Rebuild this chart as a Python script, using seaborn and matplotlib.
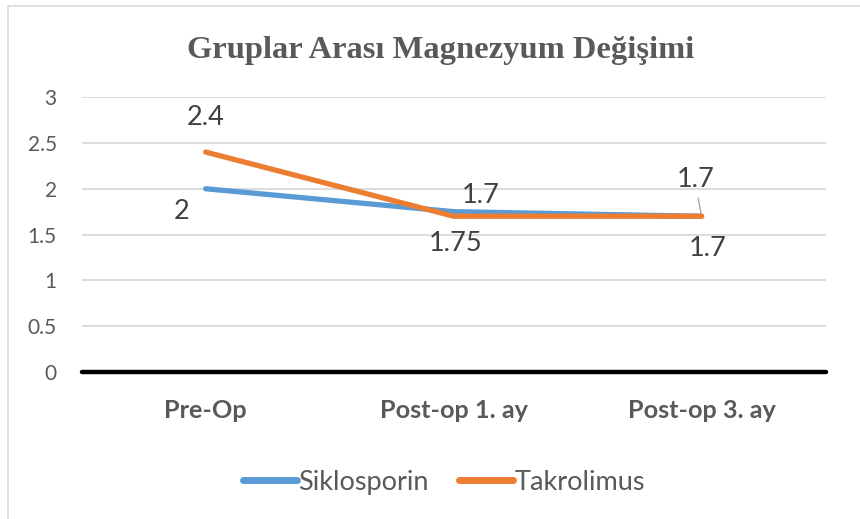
import pandas as pd
import matplotlib
matplotlib.use("Agg")
import matplotlib.pyplot as plt
from matplotlib.patches import Rectangle
import seaborn as sns

# chart values
categories = ['Pre-Op', 'Post-op 1. ay', 'Post-op 3. ay']
siklosporin = [2, 1.75, 1.7]
takrolimus = [2.4, 1.7, 1.7]
siklo_labels = ['2', '1.75', '1.7']
takro_labels = ['2.4', '1.7', '1.7']
series_names = ['Siklosporin', 'Takrolimus']
yticks = [0, 0.5, 1, 1.5, 2, 2.5, 3]
ytick_labels = ['0', '0.5', '1', '1.5', '2', '2.5', '3']

df = pd.DataFrame({
    'Dönem': categories * 2,
    'Değer': siklosporin + takrolimus,
    'Grup': [series_names[0]] * 3 + [series_names[1]] * 3,
})

sns.set_theme(style='white')
plt.rcParams['font.family'] = ['Lato', 'DejaVu Sans']

grid_col = '#d9d9d9'
text_col = '#595959'
palette = {'Siklosporin': '#5b9bd5', 'Takrolimus': '#ed7d31'}

fig = plt.figure(figsize=(8.6, 5.19), dpi=100)
ax = fig.add_axes([0.095, 0.283, 0.865, 0.53])

# outer chart frame
fig.patches.append(Rectangle((0.009, -0.01), 1.0, 0.998, transform=fig.transFigure,
                             fill=False, edgecolor='#d9d9d9', linewidth=1.2))

sns.lineplot(data=df, x='Dönem', y='Değer', hue='Grup', palette=palette,
             sort=False, linewidth=3.8, ax=ax, legend=False,
             solid_capstyle='round', solid_joinstyle='round')

ax.set_xlim(-0.5, 2.5)
ax.set_ylim(0, 3)
ax.set_yticks(yticks)
ax.set_yticklabels(ytick_labels)
for y in yticks[1:]:
    ax.axhline(y, color=grid_col, linewidth=1.3, zorder=0)
ax.axhline(0, color='black', linewidth=3.2, zorder=1, clip_on=False)

for s in ax.spines.values():
    s.set_visible(False)
ax.tick_params(axis='y', length=0, pad=18, labelsize=15, labelcolor=text_col)
ax.tick_params(axis='x', length=0, pad=19, labelsize=18.2, labelcolor=text_col)
for t in ax.get_xticklabels():
    t.set_fontweight('bold')
ax.set_xlabel('')
ax.set_ylabel('')

# data labels (offsets in pixels)
siklo_off = [(-24, -23), (2, -32), (6, -32)]
takro_off = [(0, 35), (27, 21), (-6, 37)]
for i, (v, lab) in enumerate(zip(siklosporin, siklo_labels)):
    ax.annotate(lab, (i, v), xytext=siklo_off[i], textcoords='offset pixels',
                ha='center', va='center', fontsize=19.5, color='#404040')
for i, (v, lab) in enumerate(zip(takrolimus, takro_labels)):
    ax.annotate(lab, (i, v), xytext=takro_off[i], textcoords='offset pixels',
                ha='center', va='center', fontsize=19.5, color='#404040')
# leader line for the last label
ax.annotate('', (2, takrolimus[2]), xytext=(-4, 21), textcoords='offset pixels',
            arrowprops=dict(arrowstyle='-', color='#a6a6a6', lw=1))

fig.text(0.512, 0.903, 'Gruplar Arası Magnezyum Değişimi', ha='center', va='center',
         fontsize=23.4, fontweight='bold', color=text_col,
         family=['Liberation Serif', 'DejaVu Serif'])

handles = [plt.Line2D([], [], color=palette[n], linewidth=5, solid_capstyle='round')
           for n in series_names]
fig.legend(handles, series_names, loc='center', bbox_to_anchor=(0.516, 0.071),
           ncol=2, frameon=False, fontsize=19.5, handlelength=2.0,
           handletextpad=0.05, columnspacing=1.1, labelcolor=text_col)

fig.savefig('out.png', dpi=100)
